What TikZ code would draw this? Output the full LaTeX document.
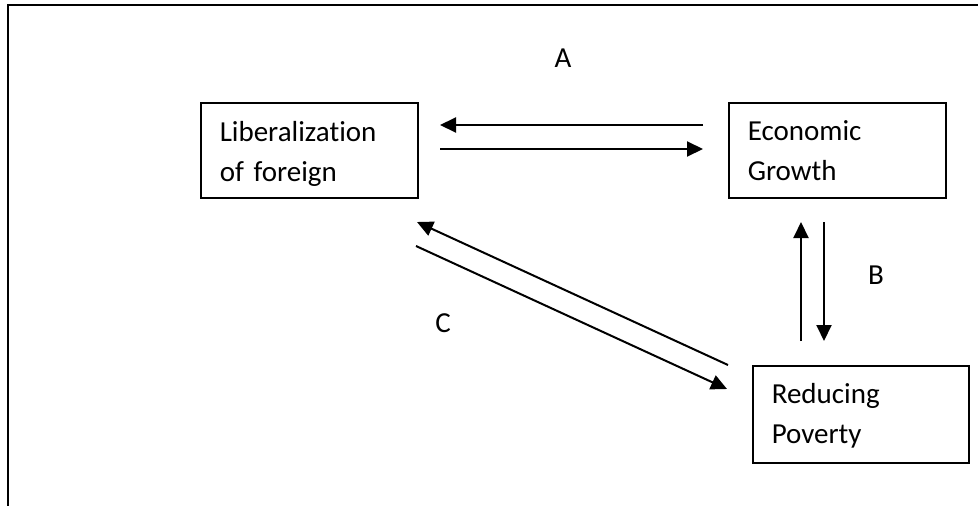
\documentclass[tikz,border=0pt]{standalone}
\usepackage{fontspec}
\setmainfont{Carlito}[Ligatures={NoCommon}]
\usetikzlibrary{arrows.meta}
\tikzset{
  box/.style={draw, line width=1.5pt, anchor=north west, inner ysep=0pt, inner xsep=19pt, align=left,
    font=\fontsize{29}{40}\selectfont},
  lbl/.style={inner sep=0pt, font=\fontsize{29}{34}\selectfont},
  arr/.style={line width=2pt, -{Triangle[length=16pt,width=15pt]}},
  frame/.style={line width=2pt}
}
\begin{document}
\begin{tikzpicture}[x=1pt, y=-1pt]
\useasboundingbox (0,0) rectangle (978,506);
\draw[frame] (978,5) -- (8,5) -- (8,506);
% boxes
\node[box, text width=179pt, text height=39pt, text depth=56pt] (lib) at (200,102) {Liberalization\\of foreign};
\node[box, text width=179pt, text height=38pt, text depth=57pt] (eco) at (728,102) {Economic\\Growth};
\node[box, text width=178pt, text height=38pt, text depth=59pt] (pov) at (752,365) {Reducing\\Poverty};
% labels
\node[lbl] (la) at (563,58) {A};
\node[lbl] (lb) at (876,275) {B};
\node[lbl] (lc) at (443,323) {C};
% arrow ends
\coordinate (a1s) at (703,125); \coordinate (a1e) at (440,125);
\coordinate (a2s) at (440,149); \coordinate (a2e) at (703,149);
\coordinate (b1s) at (801,341); \coordinate (b1e) at (801,222);
\coordinate (b2s) at (824,222); \coordinate (b2e) at (824,341);
\coordinate (c1s) at (728,365); \coordinate (c1e) at (417,222);
\coordinate (c2s) at (416,246); \coordinate (c2e) at (727,389);
\draw[arr] (a1s) -- (a1e);
\draw[arr] (a2s) -- (a2e);
\draw[arr] (b1s) -- (b1e);
\draw[arr] (b2s) -- (b2e);
\draw[arr] (c1s) -- (c1e);
\draw[arr] (c2s) -- (c2e);
\end{tikzpicture}
\end{document}
